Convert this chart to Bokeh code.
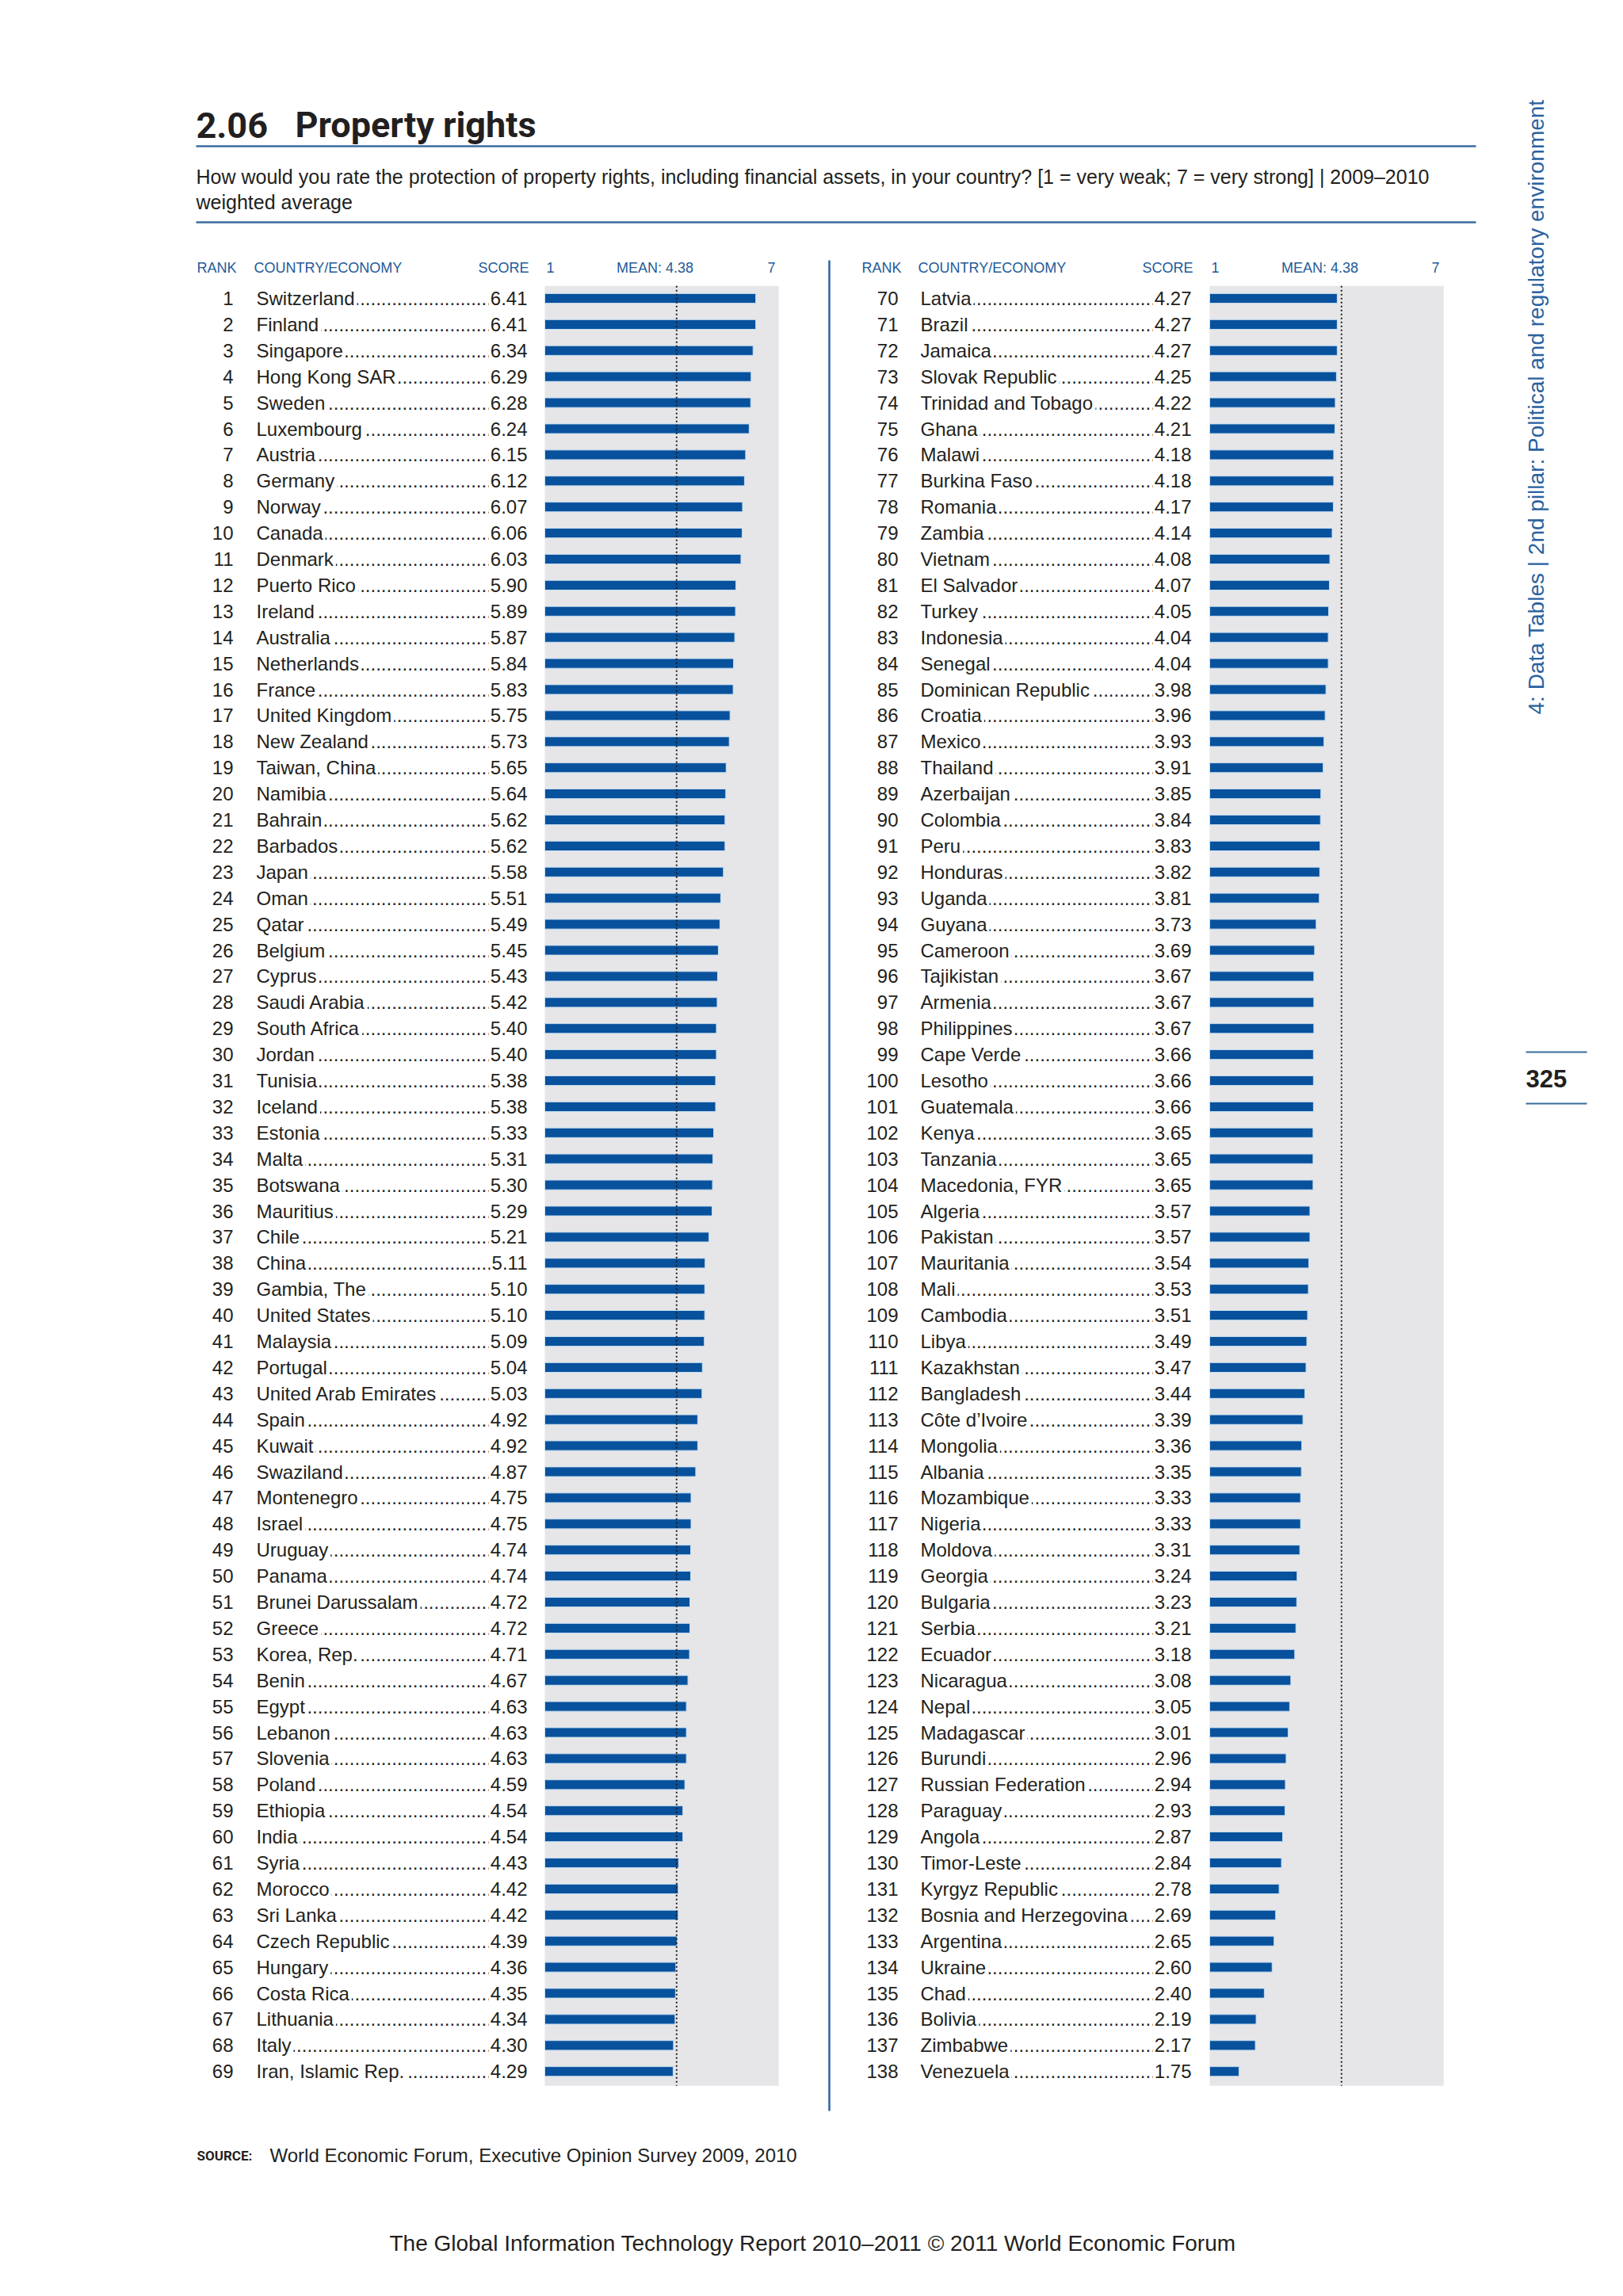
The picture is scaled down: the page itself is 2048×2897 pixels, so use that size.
import math
from bokeh.plotting import figure
from bokeh.models import Range1d, ColumnDataSource
from bokeh.core.properties import value
from bokeh.embed import file_html
from bokeh.resources import INLINE

# ---------------- data ----------------
countries_left = [
    "Switzerland", "Finland", "Singapore", "Hong Kong SAR", "Sweden", "Luxembourg",
    "Austria", "Germany", "Norway", "Canada", "Denmark", "Puerto Rico", "Ireland",
    "Australia", "Netherlands", "France", "United Kingdom", "New Zealand",
    "Taiwan, China", "Namibia", "Bahrain", "Barbados", "Japan", "Oman", "Qatar",
    "Belgium", "Cyprus", "Saudi Arabia", "South Africa", "Jordan", "Tunisia",
    "Iceland", "Estonia", "Malta", "Botswana", "Mauritius", "Chile", "China",
    "Gambia, The", "United States", "Malaysia", "Portugal", "United Arab Emirates",
    "Spain", "Kuwait", "Swaziland", "Montenegro", "Israel", "Uruguay", "Panama",
    "Brunei Darussalam", "Greece", "Korea, Rep.", "Benin", "Egypt", "Lebanon",
    "Slovenia", "Poland", "Ethiopia", "India", "Syria", "Morocco", "Sri Lanka",
    "Czech Republic", "Hungary", "Costa Rica", "Lithuania", "Italy",
    "Iran, Islamic Rep.",
]
scores_left = [
    6.41, 6.41, 6.34, 6.29, 6.28, 6.24, 6.15, 6.12, 6.07, 6.06, 6.03, 5.90, 5.89,
    5.87, 5.84, 5.83, 5.75, 5.73, 5.65, 5.64, 5.62, 5.62, 5.58, 5.51, 5.49, 5.45,
    5.43, 5.42, 5.40, 5.40, 5.38, 5.38, 5.33, 5.31, 5.30, 5.29, 5.21, 5.11, 5.10,
    5.10, 5.09, 5.04, 5.03, 4.92, 4.92, 4.87, 4.75, 4.75, 4.74, 4.74, 4.72, 4.72,
    4.71, 4.67, 4.63, 4.63, 4.63, 4.59, 4.54, 4.54, 4.43, 4.42, 4.42, 4.39, 4.36,
    4.35, 4.34, 4.30, 4.29,
]
countries_right = [
    "Latvia", "Brazil", "Jamaica", "Slovak Republic", "Trinidad and Tobago", "Ghana",
    "Malawi", "Burkina Faso", "Romania", "Zambia", "Vietnam", "El Salvador", "Turkey",
    "Indonesia", "Senegal", "Dominican Republic", "Croatia", "Mexico", "Thailand",
    "Azerbaijan", "Colombia", "Peru", "Honduras", "Uganda", "Guyana", "Cameroon",
    "Tajikistan", "Armenia", "Philippines", "Cape Verde", "Lesotho", "Guatemala",
    "Kenya", "Tanzania", "Macedonia, FYR", "Algeria", "Pakistan", "Mauritania",
    "Mali", "Cambodia", "Libya", "Kazakhstan", "Bangladesh", "Côte d\u2019Ivoire",
    "Mongolia", "Albania", "Mozambique", "Nigeria", "Moldova", "Georgia", "Bulgaria",
    "Serbia", "Ecuador", "Nicaragua", "Nepal", "Madagascar", "Burundi",
    "Russian Federation", "Paraguay", "Angola", "Timor-Leste", "Kyrgyz Republic",
    "Bosnia and Herzegovina", "Argentina", "Ukraine", "Chad", "Bolivia", "Zimbabwe",
    "Venezuela",
]
scores_right = [
    4.27, 4.27, 4.27, 4.25, 4.22, 4.21, 4.18, 4.18, 4.17, 4.14, 4.08, 4.07, 4.05,
    4.04, 4.04, 3.98, 3.96, 3.93, 3.91, 3.85, 3.84, 3.83, 3.82, 3.81, 3.73, 3.69,
    3.67, 3.67, 3.67, 3.66, 3.66, 3.66, 3.65, 3.65, 3.65, 3.57, 3.57, 3.54, 3.53,
    3.51, 3.49, 3.47, 3.44, 3.39, 3.36, 3.35, 3.33, 3.33, 3.31, 3.24, 3.23, 3.21,
    3.18, 3.08, 3.05, 3.01, 2.96, 2.94, 2.93, 2.87, 2.84, 2.78, 2.69, 2.65, 2.60,
    2.40, 2.19, 2.17, 1.75,
]
mean_score = 4.38
scale_min = 1
scale_max = 7

title_number = "2.06"
title_text = "Property rights"
subtitle_lines = [
    "How would you rate the protection of property rights, including financial assets, in your country? [1 = very weak; 7 = very strong]  |  2009\u20132010",
    "weighted average",
]
header_labels = ["RANK", "COUNTRY/ECONOMY", "SCORE", "1", "MEAN: 4.38", "7"]
source_label = "SOURCE:"
source_text = "World Economic Forum, Executive Opinion Survey 2009, 2010"
footer_text = "The Global Information Technology Report 2010\u20132011 \u00a9 2011 World Economic Forum"
sidebar_text = "4: Data Tables  |  2nd pillar: Political and regulatory environment"
page_number = "325"

# ---------------- styles / layout ----------------
FONT = "Liberation Sans"
FONT_B = "Roboto"
DARK = "#231f20"
BLUE_TXT = "#1f5b98"
BLUE_RULE = "#3a6c9c"
BAR = "#08519c"
BAR_EDGE = "#c4dcf0"
BG = "#e6e6e8"

W, H = 2032, 2880
ROW0 = 376.0       # screen y of first row
ROW_STEP = 32.9    # px per rank
PX_PER_UNIT = 49.2

p = figure(width=W, height=H, output_backend="svg", toolbar_location=None,
           x_range=Range1d(0, W), y_range=Range1d(H, 0),
           min_border=0)
p.axis.visible = False
p.grid.visible = False
p.outline_line_color = None
p.background_fill_color = "white"
p.border_fill_color = "white"


def rank_range(first_rank):
    start = first_rank + (H - ROW0) / ROW_STEP
    end = first_rank - ROW0 / ROW_STEP
    return Range1d(start, end)


def value_range(origin_px):
    start = scale_min - origin_px / PX_PER_UNIT
    end = scale_min + (W - origin_px) / PX_PER_UNIT
    return Range1d(start, end)


p.extra_y_ranges = {"rowsL": rank_range(1), "rowsR": rank_range(len(countries_left) + 1)}
p.extra_x_ranges = {"valL": value_range(687), "valR": value_range(1526)}

# ---- title block ----
p.text(x=[247], y=[157], text=[title_number], text_font=value(FONT_B), text_font_style="bold",
       text_font_size="45px", text_color=DARK, text_baseline="alphabetic")
p.text(x=[372], y=[157], text=[title_text], text_font=value(FONT_B), text_font_style="bold",
       text_font_size="45px", text_color=DARK, text_baseline="alphabetic")
p.segment(x0=[247, 247], x1=[1862, 1862], y0=[184, 280], y1=[184, 280],
          line_color=BLUE_RULE, line_width=2.5)
p.text(x=[247, 247], y=[222, 254], text=subtitle_lines, text_font=value(FONT),
       text_font_size="25px", text_color=DARK, text_baseline="alphabetic")

# ---- vertical divider ----
p.segment(x0=[1046], x1=[1046], y0=[328], y1=[2663], line_color="#2a62a0", line_width=2.5)


def panel(countries, scores, first_rank, yname, xname, rank_x, name_x, score_x,
          h_rank_x, h_one_x, h_mean_x, h_seven_x):
    n = len(countries)
    ranks = list(range(first_rank, first_rank + n))
    src = ColumnDataSource(dict(
        rank=ranks,
        rank_txt=[str(r) for r in ranks],
        name=countries,
        score=scores,
        score_txt=[f"{s:.2f}" for s in scores],
        dots=["." * 50] * n,
    ))
    last = first_rank + n - 1
    # grey background band for the scale
    p.quad(left=[scale_min], right=[scale_max], top=[first_rank - 0.48], bottom=[last + 0.55],
           fill_color=BG, line_color=None, x_range_name=xname, y_range_name=yname)
    # bars
    p.hbar(y="rank", left=scale_min, right="score", height=0.37, source=src,
           fill_color=BAR, line_color=BAR_EDGE, line_width=1,
           x_range_name=xname, y_range_name=yname)
    # mean line
    p.segment(x0=[mean_score], x1=[mean_score], y0=[first_rank - 0.48], y1=[last + 0.55],
              line_color=DARK, line_width=2, line_dash="2 3",
              x_range_name=xname, y_range_name=yname)
    # texts
    p.text(x=rank_x, y="rank", text="rank_txt", source=src, text_font=value(FONT),
           text_font_size="24px", text_color=DARK, text_align="right",
           text_baseline="middle", y_range_name=yname)
    p.text(x=score_x, y="rank", text="dots", source=src, text_font=value(FONT),
           text_font_size="24px", text_color=DARK, text_align="right",
           text_baseline="middle", y_range_name=yname)
    p.text(x=name_x, y="rank", text="name", source=src, text_font=value(FONT),
           text_font_size="24px", text_color=DARK, text_align="left",
           text_baseline="middle", y_range_name=yname,
           background_fill_color="white", padding=3)
    p.text(x=score_x, y="rank", text="score_txt", source=src, text_font=value(FONT),
           text_font_size="24px", text_color=DARK, text_align="right",
           text_baseline="middle", y_range_name=yname,
           background_fill_color="white", padding=2)
    # header row
    hy = 337
    p.text(x=[h_rank_x], y=[hy], text=[header_labels[0]], text_font=value(FONT),
           text_font_size="18px", text_color=BLUE_TXT, text_baseline="middle")
    p.text(x=[name_x], y=[hy], text=[header_labels[1]], text_font=value(FONT),
           text_font_size="18px", text_color=BLUE_TXT, text_baseline="middle")
    p.text(x=[score_x], y=[hy], text=[header_labels[2]], text_font=value(FONT),
           text_font_size="18px", text_color=BLUE_TXT, text_baseline="middle", text_align="right")
    p.text(x=[h_one_x], y=[hy], text=[header_labels[3]], text_font=value(FONT),
           text_font_size="18px", text_color=BLUE_TXT, text_baseline="middle")
    p.text(x=[h_mean_x], y=[hy], text=[header_labels[4]], text_font=value(FONT),
           text_font_size="18px", text_color=BLUE_TXT, text_baseline="middle", text_align="center")
    p.text(x=[h_seven_x], y=[hy], text=[header_labels[5]], text_font=value(FONT),
           text_font_size="18px", text_color=BLUE_TXT, text_baseline="middle", text_align="right")


panel(countries_left, scores_left, 1, "rowsL", "valL", 294, 320, 667,
      248, 689, 826, 978)
panel(countries_right, scores_right, len(countries_left) + 1, "rowsR", "valR", 1133, 1158, 1505,
      1087, 1528, 1665, 1816)

# ---- sidebar ----
p.text(x=[1938], y=[901], text=[sidebar_text], angle=math.pi / 2, text_font=value(FONT),
       text_font_size="28px", text_color="#2a62a0", text_align="left", text_baseline="middle")
p.segment(x0=[1925, 1925], x1=[2002, 2002], y0=[1327, 1392], y1=[1327, 1392],
          line_color=BLUE_RULE, line_width=2)
p.text(x=[1925], y=[1360], text=[page_number], text_font=value(FONT), text_font_style="bold",
       text_font_size="31px", text_color=DARK, text_baseline="middle")

# ---- source & footer ----
p.text(x=[248], y=[2719], text=[source_label], text_font=value(FONT_B), text_font_style="bold",
       text_font_size="17px", text_color=DARK, text_baseline="middle")
p.text(x=[340], y=[2719], text=[source_text], text_font=value(FONT),
       text_font_size="24px", text_color=DARK, text_baseline="middle")
p.text(x=[1025], y=[2830], text=[footer_text], text_font=value(FONT),
       text_font_size="28px", text_color=DARK, text_baseline="middle", text_align="center")

open("out.html", "w").write(file_html(p, INLINE))
